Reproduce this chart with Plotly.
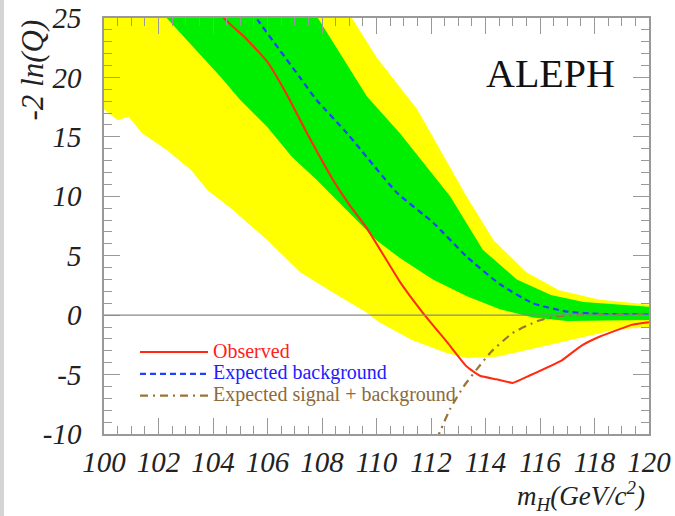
import plotly.graph_objects as go

# ---- data ----
yellow_up_m = [100, 105, 109.1, 110.0, 111.5, 113.3, 114.3, 115.5, 116.7, 118.2, 120]
yellow_up_v = [55, 39, 25, 21.7, 17.3, 10.0, 6.3, 3.6, 2.1, 1.3, 0.9]
yellow_lo_m = [100, 100.5, 100.9, 101.4, 102.3, 103.2, 103.8, 104.7, 106.0, 107.2, 108.4,
               109.65, 110.1, 111.3, 112.6, 113.3, 114.4, 115.6, 116.8, 117.5, 118.8, 120]
yellow_lo_v = [17.3, 16.4, 16.7, 15.3, 13.9, 12.2, 10.5, 8.9, 6.3, 3.6, 1.9,
               0.2, -0.6, -2.1, -3.2, -3.6, -3.5, -2.9, -2.3, -1.9, -1.2, -1.0]

green_up_m = [100, 104, 107.85, 108.2, 109.65, 110.86, 112.7, 113.9, 115.15, 116.4, 117.6, 120]
green_up_v = [49, 37, 25, 23.7, 18.4, 15.3, 10.0, 5.5, 3.0, 1.7, 1.1, 0.7]
green_lo_m = [100, 102.3, 102.8, 103.5, 104.3, 105.0, 106.0, 106.9, 107.8, 109.0, 110.0,
              110.86, 112.07, 113.32, 114.53, 115.74, 117.0, 120]
green_lo_v = [31, 25, 23.7, 22.0, 20.0, 18.1, 15.8, 13.3, 11.4, 8.6, 6.3,
              4.8, 3.0, 1.6, 0.5, -0.2, -0.5, -0.4]

exp_bkg_m = [105.0, 105.65, 107.19, 107.8, 108.92, 110.75, 112.07, 113.32, 114.53, 115.74,
             116.99, 118.2, 120]
exp_bkg_v = [27.0, 24.8, 20.0, 18.1, 15.3, 10.3, 7.8, 4.9, 2.6, 1.0, 0.3, 0.1, 0.05]

obs_m = [104.0, 104.4, 105.2, 106.0, 106.7, 107.45, 108.4, 109.0, 109.65, 110.86, 111.7,
         112.6, 113.3, 113.8, 114.4, 115.0, 115.6, 116.8, 117.5, 118.2, 119.4, 120.0]
obs_v = [27.0, 25.0, 23.3, 21.3, 18.6, 15.3, 11.4, 9.3, 7.3, 2.8, 0.2,
         -2.3, -4.3, -5.1, -5.4, -5.7, -5.1, -3.8, -2.6, -1.8, -0.8, -0.6]

sb_m = [112.2, 112.7, 113.2, 113.7, 114.2, 115.0, 115.9, 116.6, 117.2, 118.5, 120]
sb_v = [-10.5, -7.9, -6.0, -4.5, -3.1, -1.5, -0.5, -0.1, 0.0, 0.05, 0.05]

x_ticks = [100, 102, 104, 106, 108, 110, 112, 114, 116, 118, 120]
y_ticks = [-10, -5, 0, 5, 10, 15, 20, 25]

W, H = 675, 516
ML, MR, MT, MB = 104, 26, 18, 82
PW, PH = W - ML - MR, H - MT - MB

fig = go.Figure()

fig.add_trace(go.Scatter(
    x=yellow_up_m + yellow_lo_m[::-1], y=yellow_up_v + yellow_lo_v[::-1],
    fill="toself", fillcolor="#ffff00", line=dict(width=0), mode="lines",
    showlegend=False, hoverinfo="skip"))
fig.add_trace(go.Scatter(
    x=green_up_m + green_lo_m[::-1], y=green_up_v + green_lo_v[::-1],
    fill="toself", fillcolor="#00ee00", line=dict(width=0), mode="lines",
    showlegend=False, hoverinfo="skip"))

LS = 'style="color:{c};font-size:20px"'
fig.add_trace(go.Scatter(
    x=obs_m, y=obs_v, mode="lines",
    line=dict(color="#ff2a10", width=2, shape="spline", smoothing=0.4),
    name='<span ' + LS.format(c="#ff2020") + '>Observed</span>'))
fig.add_trace(go.Scatter(
    x=exp_bkg_m, y=exp_bkg_v, mode="lines",
    line=dict(color="#2040ff", width=2.2, dash="6px,4px", shape="spline", smoothing=0.5),
    name='<span ' + LS.format(c="#2020ff") + '>Expected background</span>'))
fig.add_trace(go.Scatter(
    x=sb_m, y=sb_v, mode="lines",
    line=dict(color="#9a7435", width=2.2, dash="8px,5px,2px,5px", shape="spline", smoothing=0.5),
    name='<span ' + LS.format(c="#8d6a38") + '>Expected signal + background</span>'))

fig.add_hline(y=0, line=dict(color="#888888", width=1.2), layer="above")

# left page edge decoration
fig.add_shape(type="rect", xref="paper", yref="paper",
              x0=(0 - ML) / PW, x1=(4 - ML) / PW,
              y0=-MB / PH, y1=1 + MT / PH,
              fillcolor="#d4d4d4", line=dict(width=0), layer="below")

tickfont = dict(family="Liberation Serif", size=29, style="italic", color="#222")

fig.update_xaxes(
    range=[100, 120], tickvals=x_ticks, ticktext=[str(v) for v in x_ticks],
    ticks="inside", ticklen=16, tickwidth=1.3, tickcolor="#999",
    showline=True, linecolor="#999", linewidth=1.5, mirror="ticks",
    showgrid=False, zeroline=False, tickfont=tickfont, ticklabelstandoff=1,
    automargin=False,
    minor=dict(ticks="inside", ticklen=8, dtick=0.5, tick0=100, tickcolor="#999",
               tickwidth=1.2, showgrid=False))
fig.update_yaxes(
    range=[-10, 25], tickvals=y_ticks, ticktext=[str(v) for v in y_ticks],
    ticks="inside", ticklen=16, tickwidth=1.3, tickcolor="#999",
    showline=True, linecolor="#999", linewidth=1.5, mirror="ticks",
    showgrid=False, zeroline=False, tickfont=tickfont, ticklabelstandoff=15,
    automargin=False,
    minor=dict(ticks="inside", ticklen=8, dtick=1, tick0=0, tickcolor="#999",
               tickwidth=1.2, showgrid=False))

fig.add_annotation(text="ALEPH", xref="paper", yref="paper",
                   x=(550 - ML) / PW, y=(H - MB - 74) / PH,
                   xanchor="center", yanchor="middle", showarrow=False,
                   font=dict(family="Liberation Serif", size=40, color="#111"))
fig.add_annotation(text="-2 ln(Q)", xref="paper", yref="paper", textangle=-90,
                   x=(32 - ML) / PW, y=(H - MB - 18) / PH,
                   xanchor="center", yanchor="top", showarrow=False,
                   font=dict(family="Liberation Serif", size=31, style="italic", color="#222"))
fig.add_annotation(text="m<sub>H</sub>(GeV/c<sup>2</sup>)", xref="paper", yref="paper",
                   x=(647 - ML) / PW, y=(H - MB - 496) / PH,
                   xanchor="right", yanchor="middle", showarrow=False,
                   font=dict(family="Liberation Serif", size=27, style="italic", color="#222"))

fig.update_layout(
    width=W, height=H, margin=dict(l=ML, r=MR, t=MT, b=MB),
    paper_bgcolor="white", plot_bgcolor="white",
    legend=dict(x=(135 - ML) / PW, y=(H - MB - 336) / PH,
                xanchor="left", yanchor="top", bgcolor="rgba(0,0,0,0)",
                font=dict(family="Liberation Serif", size=14.5), itemwidth=68,
                tracegroupgap=0),
)

fig.write_html("out.html")
